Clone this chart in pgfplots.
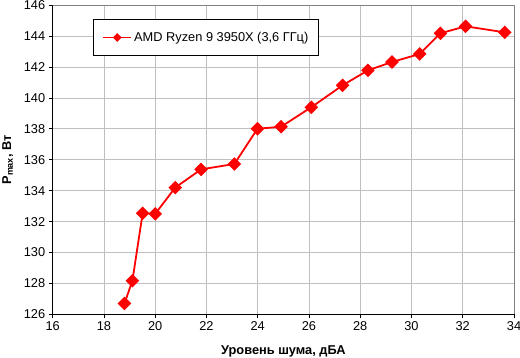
\documentclass[border=0pt]{standalone}
\usepackage{pgfplots}
\pgfplotsset{compat=1.18}
\usepackage{fontspec}
\setmainfont{Liberation Sans}
\begin{document}
\begin{tikzpicture}[x=1pt,y=1pt]
\useasboundingbox (0,0) rectangle (520,357);
\begin{axis}[
  at={(52.7pt,42.7pt)}, anchor=south west,
  scale only axis, width=461.3pt, height=309pt,
  xmin=16, xmax=34, ymin=126, ymax=146,
  xtick={16,18,...,34}, ytick={126,128,...,146},
  axis lines=left, axis line style={-, line width=0.9pt, black},
  tick align=outside, major tick length=4pt,
  tick style={black, line width=0.9pt},
  grid=major, grid style={draw=black!25, line width=0.9pt},
  /pgf/number format/assume math mode=true,
  ticklabel style={font=\fontsize{12.8}{15}\selectfont},
  xlabel={\textbf{Уровень шума, дБА}},
  ylabel={\textbf{P\textsubscript{max}, Вт}},
  xlabel style={at={(axis description cs:0.5,0)}, anchor=base, yshift=-39.7pt, font=\fontsize{12.8}{15}\selectfont},
  ylabel style={at={([xshift=-41.7pt]axis description cs:0,0.5)}, anchor=base, font=\fontsize{12.8}{15}\selectfont},
  legend style={at={(0.0883,0.9566)}, anchor=north west, draw=black, line width=0.9pt,
    inner xsep=8.5pt, inner ysep=11pt, font=\fontsize{12.8}{15}\selectfont},
  legend image code/.code={\draw[mark repeat=2,mark phase=2,mark size=2.2pt] plot coordinates {(0pt,0pt) (14pt,0pt) (28pt,0pt)};},
  clip=false,
]
\draw[draw=black!50, line width=0.9pt] (rel axis cs:0,1) -- (rel axis cs:1,1) -- (rel axis cs:1,0);
\addplot[red, line width=1.8pt, mark=square*, mark size=3.9pt, mark options={rotate=45, solid, fill=red}]
coordinates {
(18.80,126.70)
(19.11,128.17)
(19.51,132.54)
(20.00,132.50)
(20.78,134.20)
(21.79,135.38)
(23.09,135.73)
(23.99,138.01)
(24.91,138.14)
(26.09,139.40)
(27.31,140.82)
(28.30,141.79)
(29.24,142.33)
(30.32,142.85)
(31.13,144.19)
(32.11,144.64)
(33.64,144.25)
};
\addlegendentry{AMD Ryzen 9 3950X (3,6 ГГц)\hspace{9pt}}
\end{axis}
\end{tikzpicture}
\end{document}
